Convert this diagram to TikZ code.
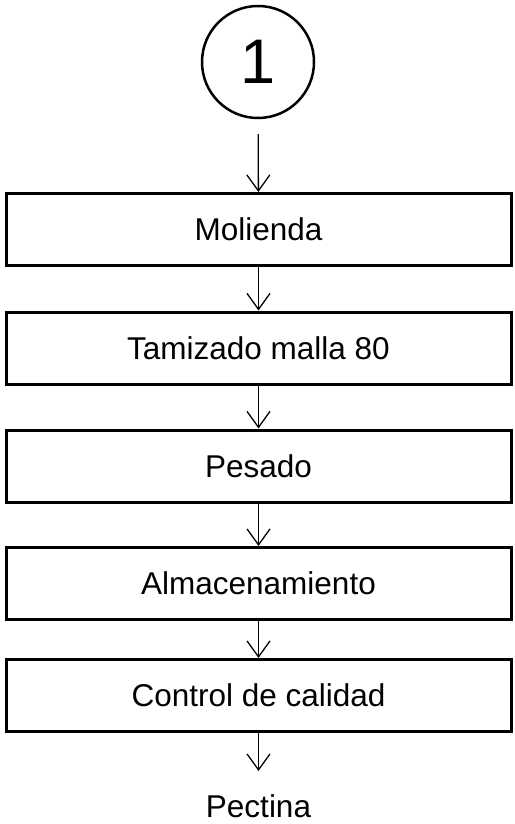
\documentclass[tikz,border=0pt]{standalone}
\usepackage{fontspec}
\setmainfont{Liberation Sans}
\usetikzlibrary{shapes, arrows.meta, positioning}

\begin{document}
\begin{tikzpicture}[x=1pt, y=1pt,
			every node/.style={font=\fontsize{31.5}{36}\selectfont},
			etapa/.style={draw, line width=3pt, minimum width=505pt, minimum height=72pt, inner sep=0pt},
			flecha/.style={-{Straight Barb[length=16pt, width=23pt]}, line width=1.3pt},
			node distance=43pt]
		\useasboundingbox (0,0) rectangle (514,-824);
		\node[draw, circle, line width=2.5pt, minimum size=112pt, inner sep=0pt,
			font=\fontsize{63}{70}\selectfont] (uno) at (258,-62) {1};

		\node[etapa] (mol) at (258.5,-229.5) {Molienda};
		\node[etapa, below =43.5pt of mol] (tam) {Tamizado malla 80};
		\node[etapa, below =of tam] (pes) {Pesado};
		\node[etapa, below =42.5pt of pes] (alm) {Almacenamiento};
		\node[etapa, below =37pt of alm] (cal) {Control de calidad};
		\node[below =61pt of cal, inner sep=0pt] (pec) {Pectina};

		\draw[flecha, shorten <=15pt] (uno) -- (mol);
		\foreach \from/\to in {mol/tam, tam/pes, pes/alm, alm/cal}
			\draw[flecha] (\from) -- (\to);
		\draw[flecha, shorten >=23pt] (cal) -- (pec);
	\end{tikzpicture}
\end{document}
